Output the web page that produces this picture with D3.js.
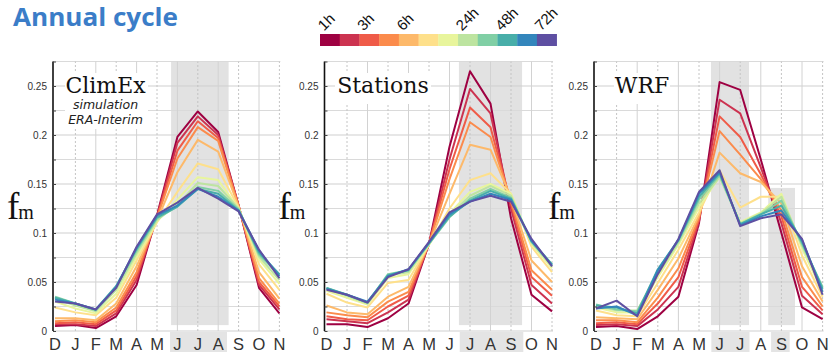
<!DOCTYPE html>
<html>
<head>
<meta charset="utf-8">
<script src="https://cdn.jsdelivr.net/npm/d3@7"></script>
<style>
  html, body { margin: 0; padding: 0; background: #fff; }
  svg { display: block; }
</style>
</head>
<body>
<svg id="chart" width="828" height="352"></svg>
<script>
// Months of the annual cycle, starting in December
const months = ["D", "J", "F", "M", "A", "M", "J", "J", "A", "S", "O", "N"];

// Accumulation durations (colour legend) and which cells carry a label
const durationColors = ["#9e0142", "#cc3350", "#ef5b48", "#fb8b4c", "#fdb96a", "#fee08b",
                        "#e8f59c", "#bde4a0", "#80cfa5", "#48aea9", "#3386bc", "#5e4fa2"];
const legendLabels = ["1h", "3h", "6h", "24h", "48h", "72h"];
const legendLabelCells = [0, 2, 4, 7, 9, 11];

// Y axis ticks
const yTicks = [0, 0.05, 0.1, 0.15, 0.2, 0.25];
const yTickLabels = ["0", "0.05", "0.1", "0.15", "0.2", "0.25"];

// Monthly frequency of annual maxima, one row per duration (1h ... 72h)
const climex = [
  [0.005, 0.006, 0.003, 0.015, 0.047, 0.118, 0.198, 0.224, 0.203, 0.128, 0.044, 0.018],
  [0.007, 0.007, 0.005, 0.018, 0.052, 0.117, 0.192, 0.219, 0.200, 0.128, 0.047, 0.022],
  [0.008, 0.009, 0.007, 0.021, 0.056, 0.116, 0.184, 0.214, 0.197, 0.128, 0.050, 0.025],
  [0.010, 0.011, 0.009, 0.024, 0.060, 0.115, 0.176, 0.208, 0.194, 0.127, 0.054, 0.028],
  [0.013, 0.013, 0.011, 0.028, 0.066, 0.113, 0.162, 0.195, 0.183, 0.127, 0.060, 0.033],
  [0.024, 0.019, 0.016, 0.034, 0.072, 0.111, 0.142, 0.171, 0.165, 0.126, 0.068, 0.042],
  [0.030, 0.023, 0.018, 0.038, 0.076, 0.112, 0.134, 0.157, 0.154, 0.125, 0.073, 0.048],
  [0.033, 0.026, 0.020, 0.042, 0.079, 0.113, 0.129, 0.151, 0.148, 0.125, 0.076, 0.052],
  [0.035, 0.028, 0.021, 0.045, 0.082, 0.115, 0.127, 0.147, 0.143, 0.124, 0.078, 0.057],
  [0.034, 0.028, 0.022, 0.046, 0.084, 0.116, 0.127, 0.145, 0.140, 0.123, 0.080, 0.058],
  [0.032, 0.028, 0.022, 0.045, 0.085, 0.118, 0.128, 0.145, 0.137, 0.123, 0.082, 0.056],
  [0.030, 0.028, 0.022, 0.044, 0.086, 0.119, 0.131, 0.146, 0.135, 0.122, 0.083, 0.054]
];

const stations = [
  [0.007, 0.007, 0.004, 0.013, 0.028, 0.089, 0.188, 0.265, 0.232, 0.115, 0.037, 0.020],
  [0.012, 0.010, 0.008, 0.019, 0.032, 0.089, 0.175, 0.247, 0.222, 0.125, 0.047, 0.028],
  [0.015, 0.012, 0.011, 0.025, 0.036, 0.089, 0.165, 0.228, 0.208, 0.130, 0.055, 0.036],
  [0.019, 0.016, 0.014, 0.030, 0.040, 0.089, 0.155, 0.213, 0.198, 0.133, 0.062, 0.042],
  [0.026, 0.019, 0.017, 0.035, 0.045, 0.089, 0.140, 0.190, 0.185, 0.136, 0.072, 0.050],
  [0.038, 0.029, 0.024, 0.049, 0.052, 0.088, 0.125, 0.154, 0.161, 0.140, 0.086, 0.060],
  [0.041, 0.034, 0.027, 0.054, 0.058, 0.088, 0.120, 0.142, 0.150, 0.140, 0.089, 0.064],
  [0.043, 0.036, 0.028, 0.057, 0.060, 0.089, 0.118, 0.138, 0.148, 0.138, 0.090, 0.066],
  [0.044, 0.037, 0.029, 0.058, 0.062, 0.089, 0.116, 0.135, 0.145, 0.136, 0.091, 0.068],
  [0.044, 0.037, 0.029, 0.057, 0.062, 0.090, 0.117, 0.133, 0.143, 0.135, 0.092, 0.068],
  [0.043, 0.037, 0.030, 0.056, 0.063, 0.090, 0.119, 0.132, 0.140, 0.134, 0.092, 0.067],
  [0.042, 0.037, 0.029, 0.055, 0.063, 0.091, 0.121, 0.132, 0.138, 0.132, 0.094, 0.066]
];

const wrf = [
  [0.004, 0.005, 0.002, 0.015, 0.035, 0.110, 0.254, 0.246, 0.175, 0.100, 0.024, 0.012],
  [0.006, 0.007, 0.005, 0.022, 0.045, 0.112, 0.236, 0.222, 0.167, 0.110, 0.036, 0.017],
  [0.008, 0.009, 0.007, 0.028, 0.055, 0.114, 0.219, 0.198, 0.160, 0.117, 0.045, 0.021],
  [0.011, 0.011, 0.009, 0.034, 0.064, 0.116, 0.204, 0.180, 0.155, 0.123, 0.055, 0.025],
  [0.014, 0.013, 0.012, 0.042, 0.074, 0.118, 0.182, 0.161, 0.152, 0.130, 0.066, 0.030],
  [0.021, 0.016, 0.015, 0.049, 0.083, 0.121, 0.164, 0.126, 0.137, 0.137, 0.077, 0.035],
  [0.024, 0.019, 0.019, 0.055, 0.088, 0.126, 0.158, 0.111, 0.121, 0.140, 0.084, 0.040],
  [0.026, 0.021, 0.021, 0.058, 0.090, 0.130, 0.157, 0.110, 0.120, 0.137, 0.087, 0.044],
  [0.027, 0.022, 0.020, 0.061, 0.092, 0.134, 0.159, 0.109, 0.119, 0.133, 0.089, 0.045],
  [0.026, 0.024, 0.018, 0.063, 0.093, 0.137, 0.161, 0.109, 0.119, 0.128, 0.091, 0.043],
  [0.023, 0.025, 0.016, 0.062, 0.093, 0.140, 0.162, 0.108, 0.117, 0.123, 0.093, 0.040],
  [0.023, 0.031, 0.015, 0.058, 0.094, 0.142, 0.164, 0.107, 0.115, 0.119, 0.094, 0.037]
];

// Panel layout: position of the December column, column step, title block,
// shaded seasons (month-index span and value span) and highlighted month labels.
const panels = [
  { data: climex, left: 55, step: 20.4,
    title: "ClimEx", sub: ["simulation", "ERA-Interim"],
    box: [65, 73, 83, 56], titleX: 105.5, titleY: 93,
    shades: [[5.69, 8.51, 0.006, 0.275]], labelBg: [[5.64, 8.43]] },
  { data: stations, left: 326.5, step: 20.5,
    title: "Stations", sub: [],
    box: [335, 73, 96, 31], titleX: 383, titleY: 93,
    shades: [[6.46, 9.54, 0.006, 0.275]], labelBg: [[6.5, 9.6]] },
  { data: wrf, left: 596, step: 20.6,
    title: "WRF", sub: [],
    box: [614, 73, 56, 31], titleX: 642, titleY: 93,
    shades: [[5.58, 7.43, 0.006, 0.275], [8.36, 9.66, 0.006, 0.146]], labelBg: [[5.6, 7.45], [8.5, 9.4]] }
];

const svg = d3.select("#chart");
const yMax = 0.275;
const y = d3.scaleLinear().domain([0, yMax]).range([331, 61.5]);
const color = d3.scaleOrdinal().domain(d3.range(12)).range(durationColors);

// Title
svg.append("text")
  .attr("x", 13).attr("y", 26.3)
  .attr("font-family", "'Open Sans', sans-serif")
  .attr("font-weight", 700)
  .attr("font-size", 24.5)
  .attr("textLength", 165)
  .attr("lengthAdjust", "spacingAndGlyphs")
  .attr("fill", "#3b7dc8")
  .text("Annual cycle");

// Colour legend
const legend = svg.append("g");
const cellW = 19.72, legendX = 320;
legend.selectAll("rect").data(durationColors).join("rect")
  .attr("x", (d, i) => legendX + i * cellW)
  .attr("y", 34)
  .attr("width", cellW + 0.3)
  .attr("height", 12)
  .attr("fill", d => d);
legend.selectAll("text").data(legendLabels).join("text")
  .attr("transform", (d, i) => `translate(${legendX + legendLabelCells[i] * cellW + 4},31.5) rotate(-45)`)
  .attr("font-family", "'Liberation Sans', Arial, sans-serif")
  .attr("font-size", 15)
  .attr("fill", "#111")
  .text(d => d);

panels.forEach(p => {
  const g = svg.append("g");
  const x = d3.scaleLinear().domain([0, 11]).range([p.left, p.left + 11 * p.step]);
  const x0 = p.left - 2, x1 = x(11) + 1;

  // highlighted month labels
  g.selectAll("rect.lbg").data(p.labelBg).join("rect")
    .attr("class", "lbg")
    .attr("x", d => x(d[0])).attr("width", d => x(d[1]) - x(d[0]))
    .attr("y", 332).attr("height", 20)
    .attr("fill", "#e4e4e4");

  // shaded season
  g.selectAll("rect.shade").data(p.shades).join("rect")
    .attr("class", "shade")
    .attr("x", d => x(d[0])).attr("width", d => x(d[1]) - x(d[0]))
    .attr("y", d => y(d[3])).attr("height", d => y(d[2]) - y(d[3]))
    .attr("fill", "#e2e2e2");

  // horizontal grid every 0.025
  const hGrid = d3.range(0, 0.2751, 0.025);
  g.selectAll("line.hg").data(hGrid).join("line")
    .attr("x1", x0).attr("x2", x1)
    .attr("y1", d => y(d)).attr("y2", d => y(d))
    .attr("stroke", (d, i) => i % 2 === 0 ? "#cfcfcf" : "#dadada")
    .attr("stroke-width", 1);

  // vertical grid: solid on even months, dotted on odd months
  g.selectAll("line.vg").data(d3.range(1, 12)).join("line")
    .attr("x1", d => x(d)).attr("x2", d => x(d))
    .attr("y1", y(0)).attr("y2", y(yMax))
    .attr("stroke", d => d % 2 === 0 ? "#d2d2d2" : "#c4c4c4")
    .attr("stroke-dasharray", d => d % 2 === 0 ? null : "2,2")
    .attr("stroke-width", 1);

  // white block behind the panel title
  g.append("rect")
    .attr("x", p.box[0]).attr("y", p.box[1]).attr("width", p.box[2]).attr("height", p.box[3])
    .attr("fill", "#fff");

  g.append("text")
    .attr("x", p.titleX).attr("y", p.titleY)
    .attr("text-anchor", "middle")
    .attr("font-family", "'DejaVu Serif', serif")
    .attr("font-size", 22)
    .attr("fill", "#111")
    .text(p.title);
  p.sub.forEach((s, i) => {
    g.append("text")
      .attr("x", p.titleX).attr("y", 109 + i * 15)
      .attr("text-anchor", "middle")
      .attr("font-family", "'DejaVu Sans', sans-serif")
      .attr("font-style", "italic")
      .attr("font-size", 12.5)
      .attr("fill", "#222")
      .text(s);
  });

  // series lines, shortest duration first
  const line = d3.line().x((d, i) => x(i)).y(d => y(d));
  g.selectAll("path.series").data(p.data).join("path")
    .attr("class", "series")
    .attr("d", line)
    .attr("fill", "none")
    .attr("stroke", (d, i) => color(i))
    .attr("stroke-width", 2)
    .attr("stroke-linejoin", "round");

  // y axis
  const axis = d3.axisLeft(y)
    .tickValues(d3.range(0, 0.2751, 0.025))
    .tickSize(-3)
    .tickFormat(d => {
      const k = yTicks.findIndex(t => Math.abs(t - d) < 1e-9);
      return k >= 0 ? yTickLabels[k] : "";
    });
  const ag = g.append("g").attr("transform", `translate(${x0},0)`).call(axis);
  ag.select(".domain").attr("stroke", "#111").attr("stroke-width", 1.6).attr("d", `M0,${y(yMax)}V${y(0)}`);
  ag.selectAll(".tick line").attr("stroke", "#444");
  ag.selectAll(".tick text")
    .attr("x", -6)
    .attr("font-family", "'Liberation Sans', Arial, sans-serif")
    .attr("font-size", 10)
    .attr("fill", "#333");

  // y label f_m
  const fl = g.append("text")
    .attr("x", x0 - 46).attr("y", 219)
    .attr("font-family", "'Liberation Serif', serif")
    .attr("fill", "#111");
  fl.append("tspan").attr("font-size", 37).text("f");
  fl.append("tspan").attr("font-size", 20).attr("dx", -1).text("m");

  // month labels
  g.selectAll("text.mon").data(months).join("text")
    .attr("class", "mon")
    .attr("x", (d, i) => x(i)).attr("y", 349.5)
    .attr("text-anchor", "middle")
    .attr("font-family", "'Liberation Sans', Arial, sans-serif")
    .attr("font-size", 16.5)
    .attr("fill", "#333")
    .text(d => d);
});
</script>
</body>
</html>
